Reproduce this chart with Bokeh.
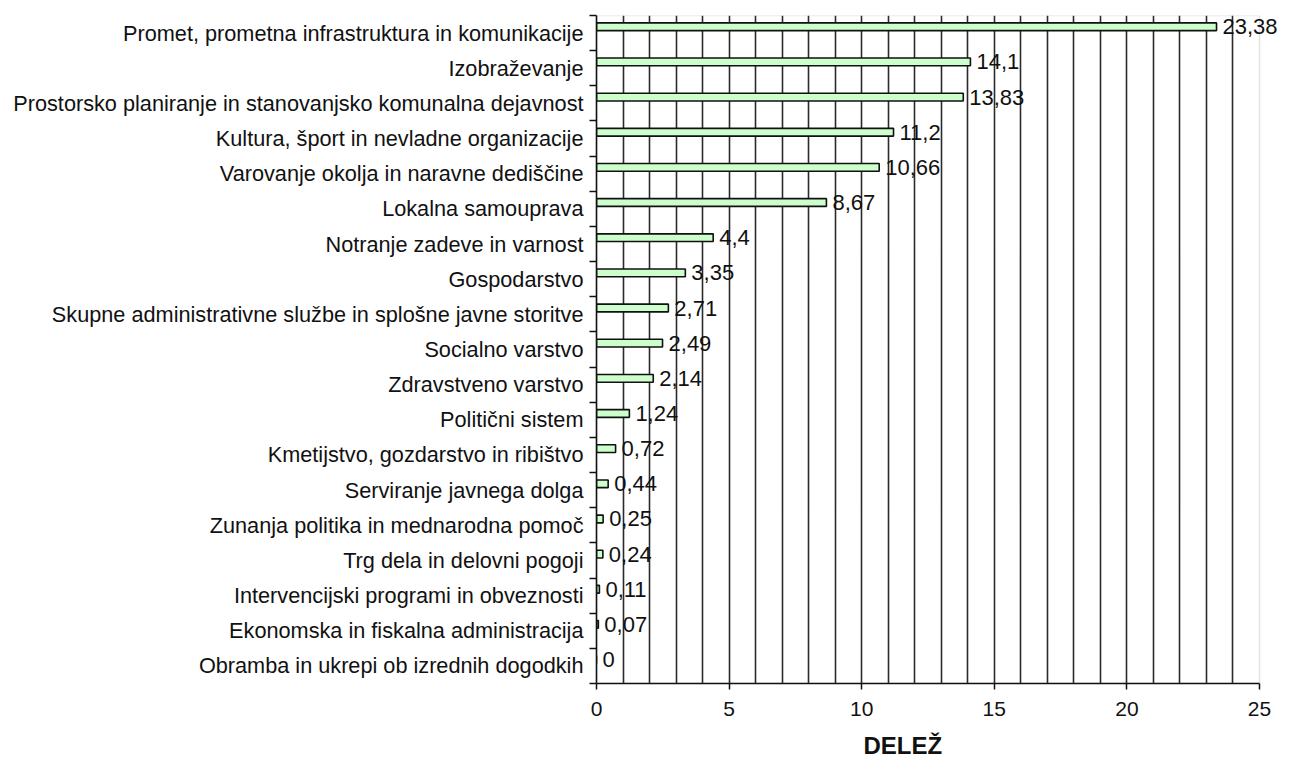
from bokeh.plotting import figure
from bokeh.models import ColumnDataSource, FixedTicker, LabelSet, Title, BoxAnnotation
from bokeh.core.properties import value
from bokeh.embed import file_html
from bokeh.resources import INLINE

categories = [
    "Promet, prometna infrastruktura in komunikacije",
    "Izobraževanje",
    "Prostorsko planiranje in stanovanjsko komunalna dejavnost",
    "Kultura, šport in nevladne organizacije",
    "Varovanje okolja in naravne dediščine",
    "Lokalna samouprava",
    "Notranje zadeve in varnost",
    "Gospodarstvo",
    "Skupne administrativne službe in splošne javne storitve",
    "Socialno varstvo",
    "Zdravstveno varstvo",
    "Politični sistem",
    "Kmetijstvo, gozdarstvo in ribištvo",
    "Serviranje javnega dolga",
    "Zunanja politika in mednarodna pomoč",
    "Trg dela in delovni pogoji",
    "Intervencijski programi in obveznosti",
    "Ekonomska in fiskalna administracija",
    "Obramba in ukrepi ob izrednih dogodkih",
]
values = [23.38, 14.1, 13.83, 11.2, 10.66, 8.67, 4.4, 3.35, 2.71, 2.49,
          2.14, 1.24, 0.72, 0.44, 0.25, 0.24, 0.11, 0.07, 0]
x_ticks = [0, 5, 10, 15, 20, 25]
x_max = 25
axis_title = "DELEŽ"

n = len(categories)
centers = [n - i - 0.5 for i in range(n)]
bar_y = [c + 0.18 for c in centers]
labels = [f"{v:g}".replace(".", ",") for v in values]

src = ColumnDataSource(dict(y=bar_y, v=values, lab=labels))

FONT = "Liberation Sans"
INK = "#111111"

# frame: left 596 px, value 25 at 1259 px -> extend range to canvas edge for labels
px_per_unit = (1259 - 596) / x_max
x_end = x_max + (1290 - 1259) / px_per_unit

p = figure(width=1290, height=769, output_backend="svg", toolbar_location=None,
           x_range=(0, x_end), y_range=(0, n),
           min_border_left=596, min_border_right=0, min_border_top=15, min_border_bottom=82)
p.outline_line_color = None
p.background_fill_color = "white"
p.border_fill_color = "white"

# grid
p.ygrid.visible = False
p.xgrid.ticker = FixedTicker(ticks=list(range(1, x_max)))
p.xgrid.grid_line_color = "#2a2a2a"
p.xgrid.grid_line_width = 1.6

# gray plot-area border (top and right)
p.add_layout(BoxAnnotation(left=0, right=x_max, bottom=0, top=n,
                           fill_alpha=0, line_color="#a0a0a0", line_width=1.5,
                           level="underlay"))

p.hbar(y="y", left=0, right="v", height=0.22, source=src,
       fill_color="#ccffcc", line_color=INK, line_width=1.6)

lbl = LabelSet(x="v", y="y", text="lab", source=src, x_offset=6,
               text_baseline="middle", text_align="left",
               text_font=value(FONT), text_font_size="22px", text_color=INK)
p.add_layout(lbl)

# x axis
xa = p.xaxis[0]
xa.ticker = FixedTicker(ticks=x_ticks)
xa.bounds = (0, x_max)
xa.minor_tick_line_color = None
xa.major_tick_out = 6
xa.major_tick_in = 0
xa.major_tick_line_color = INK
xa.major_tick_line_width = 1.5
xa.axis_line_color = INK
xa.axis_line_width = 1.6
xa.major_label_text_font = FONT
xa.major_label_text_font_size = "21px"
xa.major_label_text_color = INK
xa.major_label_standoff = 12

# y axis
ya = p.yaxis[0]
ya.ticker = FixedTicker(ticks=centers, minor_ticks=list(range(0, n + 1)))
ya.major_label_overrides = {c: cat for c, cat in zip(centers, categories)}
ya.major_tick_line_color = None
ya.major_tick_out = 7
ya.major_tick_in = 0
ya.minor_tick_out = 7
ya.minor_tick_in = 0
ya.minor_tick_line_color = INK
ya.minor_tick_line_width = 1.5
ya.axis_line_color = INK
ya.axis_line_width = 1.6
ya.major_label_text_font = FONT
ya.major_label_text_font_size = "21.7px"
ya.major_label_text_color = INK
ya.major_label_standoff = 6

t = Title(text=axis_title, align="left", offset=267, text_font=FONT,
          text_font_size="24px", text_font_style="bold", text_color=INK,
          text_line_height=0.7, standoff=22)
p.add_layout(t, "below")

open("out.html", "w").write(file_html(p, INLINE))
